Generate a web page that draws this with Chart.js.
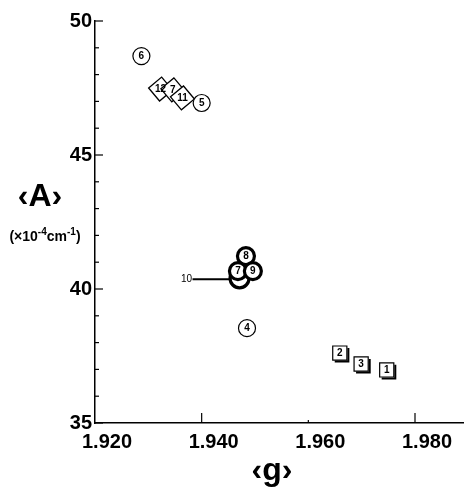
<!DOCTYPE html>
<html><head><meta charset="utf-8">
<script src="https://cdn.jsdelivr.net/npm/chart.js@4.4.1/dist/chart.umd.min.js"></script>
<style>html,body{margin:0;padding:0;background:#fff}#wrap{width:467px;height:489px;position:relative}</style>
</head><body><div id="wrap"><canvas id="c" width="467" height="489"></canvas></div>
<script>
// ---- data ----
const xTicks = [1.920, 1.940, 1.960, 1.980];
const yTicks = [35, 40, 45, 50];
const circleLabels = ['6', '5', '4'];
const circleG = [1.9287, 1.9400, 1.9485];
const circleA = [48.69, 46.94, 38.54];
const boldLabels = ['8', '7', '9'];
const boldG = [1.9483, 1.9468, 1.9496];
const boldA = [41.23, 40.67, 40.67];
const leaderLabels = ['10'];
const leaderG = [1.9471];
const leaderA = [40.40];
const diamondLabels = ['12', '7', '11'];
const diamondG = [1.9323, 1.9346, 1.9364];
const diamondA = [47.46, 47.43, 47.13];
const squareLabels = ['2', '3', '1'];
const squareG = [1.9659, 1.9699, 1.9747];
const squareA = [37.61, 37.20, 36.98];

const pts = (g, a) => g.map((v, i) => ({x: v, y: a[i]}));
const FONT = '"Liberation Sans", Arial, sans-serif';
const MFONT = '"Liberation Sans Narrow", "Liberation Sans", Arial, sans-serif';

const decoPlugin = {
  id: 'deco',
  afterDatasetDraw(chart, args) {
    const ds = chart.data.datasets[args.index];
    const ctx = chart.ctx;
    ctx.save();
    ctx.fillStyle = '#000';
    ctx.strokeStyle = '#000';
    ctx.textAlign = 'center';
    ctx.textBaseline = 'middle';
    ctx.font = 'bold 10px ' + MFONT;
    args.meta.data.forEach((p, i) => {
      const t = ds.markLabels[i];
      if (ds.kind === 'square') {
        const s = Math.SQRT1_2 * ds.pointRadius;
        ctx.lineWidth = 2;
        ctx.beginPath();
        ctx.moveTo(p.x + s + 1.5, p.y - s + 2);
        ctx.lineTo(p.x + s + 1.5, p.y + s + 1.5);
        ctx.lineTo(p.x - s + 2, p.y + s + 1.5);
        ctx.stroke();
        ctx.fillText(t, p.x, p.y + 0.5);
      } else if (ds.kind === 'leader') {
        ctx.font = '10px ' + MFONT;
        ctx.fillText(t, p.x - 53, p.y + 1);
        ctx.lineWidth = 2;
        ctx.beginPath();
        ctx.moveTo(p.x - 47, p.y + 1);
        ctx.lineTo(p.x - 9, p.y + 1);
        ctx.stroke();
      } else {
        ctx.fillText(t, p.x, p.y + 0.5);
      }
    });
    ctx.restore();
  },
  afterDraw(chart) {
    const ctx = chart.ctx;
    const xs = chart.scales.x, ys = chart.scales.y;
    ctx.save();
    ctx.strokeStyle = '#000';
    ctx.lineWidth = 1.2;
    // inward ticks on y axis
    const x0 = xs.left;
    for (let v = 35; v <= 50; v += 1) {
      const y = ys.getPixelForValue(v);
      const len = (v % 5 === 0) ? 8 : 4;
      ctx.beginPath(); ctx.moveTo(x0, y); ctx.lineTo(x0 + len, y); ctx.stroke();
    }
    // inward ticks on x axis
    const y0 = ys.bottom;
    xTicks.slice(1).forEach(v => {
      const x = xs.getPixelForValue(v);
      const len = (Math.abs(v - 1.96) < 1e-6) ? 3 : 10;
      ctx.beginPath(); ctx.moveTo(x, y0); ctx.lineTo(x, y0 - len); ctx.stroke();
    });
    // axis titles
    ctx.fillStyle = '#000';
    ctx.textAlign = 'center';
    ctx.textBaseline = 'alphabetic';
    ctx.font = 'bold 32px ' + FONT;
    ctx.fillText('\u2039A\u203A', 40, 206);
    ctx.fillText('\u2039g\u203A', 272, 480);
    // unit subtitle
    const parts = [['(\u00d710', 14, 0], ['-4', 10, -6], ['cm', 14, 0], ['-1', 10, -6], [')', 14, 0]];
    let w = 0;
    parts.forEach(pp => { ctx.font = 'bold ' + pp[1] + 'px ' + FONT; w += ctx.measureText(pp[0]).width; });
    let cx = 45 - w / 2;
    ctx.textAlign = 'left';
    parts.forEach(pp => {
      ctx.font = 'bold ' + pp[1] + 'px ' + FONT;
      ctx.fillText(pp[0], cx, 241 + pp[2]);
      cx += ctx.measureText(pp[0]).width;
    });
    ctx.restore();
  }
};

new Chart(document.getElementById('c'), {
  type: 'scatter',
  data: {
    datasets: [
      {kind: 'bold', data: pts(boldG, boldA), markLabels: boldLabels, pointStyle: 'circle', pointRadius: 8.5, pointBorderWidth: 3.2, pointBackgroundColor: '#fff', pointBorderColor: '#000'},
      {kind: 'leader', data: pts(leaderG, leaderA), markLabels: leaderLabels, pointStyle: 'circle', pointRadius: 9.5, pointBorderWidth: 3.2, pointBackgroundColor: '#fff', pointBorderColor: '#000'},
      {kind: 'circle', data: pts(circleG, circleA), markLabels: circleLabels, pointStyle: 'circle', pointRadius: 8.5, pointBorderWidth: 1.2, pointBackgroundColor: '#fff', pointBorderColor: '#000'},
      {kind: 'diamond', data: pts(diamondG, diamondA), markLabels: diamondLabels, pointStyle: 'rectRot', pointRadius: 12, pointRotation: 5, pointBorderWidth: 1.3, pointBackgroundColor: '#fff', pointBorderColor: '#000'},
      {kind: 'square', data: pts(squareG, squareA), markLabels: squareLabels, pointStyle: 'rect', pointRadius: 10, pointBorderWidth: 1.2, pointBackgroundColor: '#fff', pointBorderColor: '#000'}
    ]
  },
  options: {
    responsive: false,
    animation: false,
    devicePixelRatio: 1,
    layout: {autoPadding: false, padding: {left: 0, right: 4, top: 21, bottom: 0}},
    plugins: {legend: {display: false}, tooltip: {enabled: false}},
    scales: {
      x: {
        type: 'linear', min: 1.920, max: 1.989,
        afterFit: s => { s.height = 66; s.paddingLeft = 0; s.paddingRight = 0; },
        afterBuildTicks: s => { s.ticks = xTicks.map(v => ({value: v})); },
        grid: {display: false, drawTicks: false},
        border: {display: true, color: '#000', width: 1.5},
        ticks: {color: '#000', font: {family: FONT, size: 20, weight: 'bold'}, padding: 7, labelOffset: 12, maxRotation: 0, autoSkip: false,
          callback: v => Number(v).toFixed(3)}
      },
      y: {
        type: 'linear', min: 35, max: 50,
        afterFit: s => { s.width = 95; s.paddingTop = 0; s.paddingBottom = 0; },
        afterBuildTicks: s => { s.ticks = yTicks.map(v => ({value: v})); },
        grid: {display: false, drawTicks: false},
        border: {display: true, color: '#000', width: 1.5},
        ticks: {color: '#000', font: {family: FONT, size: 20, weight: 'bold'}, padding: 3, autoSkip: false,
          callback: v => String(v)}
      }
    }
  },
  plugins: [decoPlugin]
});
</script></body></html>
